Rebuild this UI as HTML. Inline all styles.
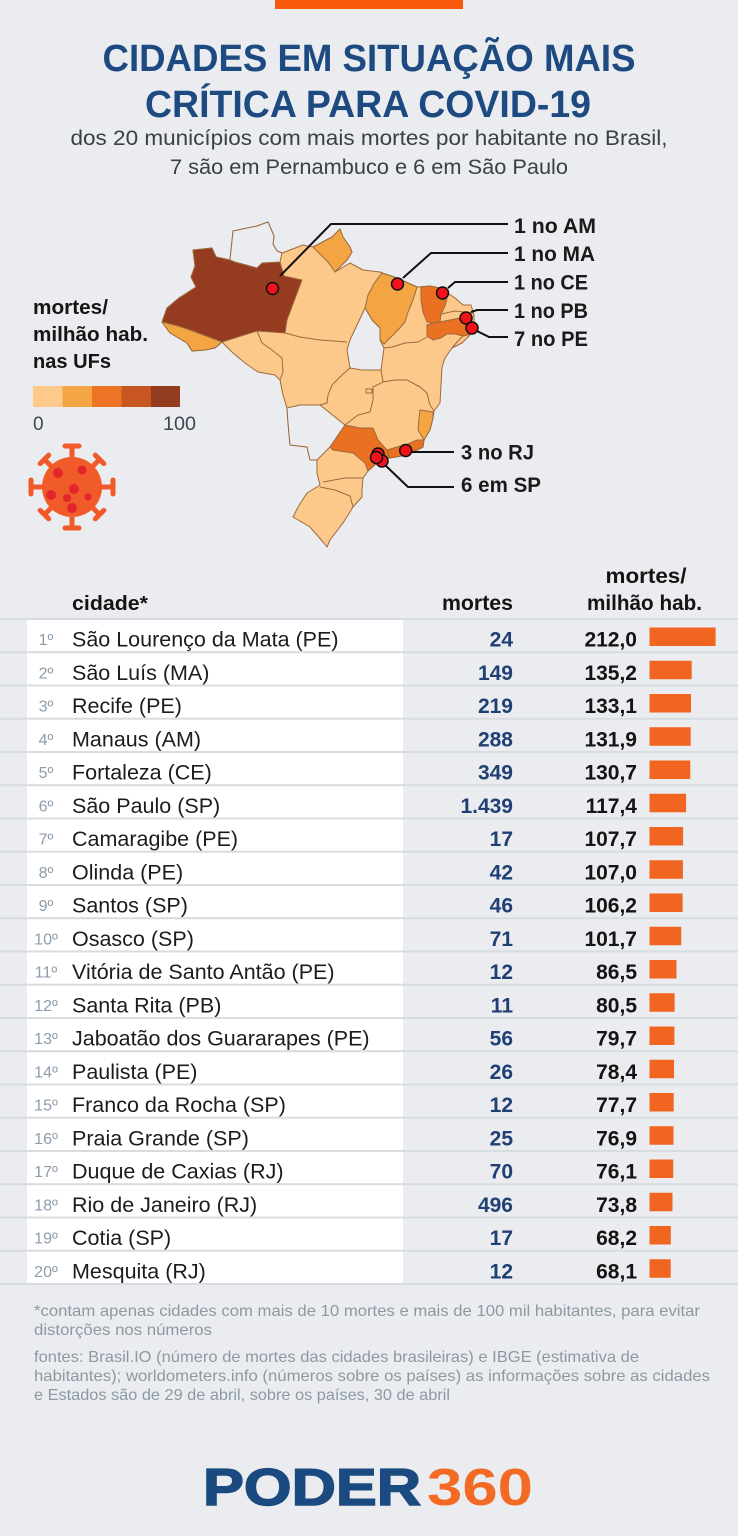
<!DOCTYPE html>
<html><head><meta charset="utf-8">
<style>
html,body{margin:0;padding:0;background:#eaecef;}
svg{display:block;}
text{font-family:"Liberation Sans",Arial,sans-serif;}
.city{font-size:21.5px;fill:#1c1c1c;}
.rank{font-size:16px;fill:#8c9cab;}
.mor{font-size:21px;font-weight:bold;fill:#203f74;}
.rate{font-size:21px;font-weight:bold;fill:#141414;}
.lbl{font-size:21px;font-weight:bold;fill:#1a1a1a;}
.foot{font-size:16px;fill:#8c99a4;}
.st{stroke:#9b6a3d;stroke-width:1;stroke-linejoin:round;}
.bd{fill:none;stroke:#9b6a3d;stroke-width:1;stroke-linejoin:round;}
</style></head>
<body>
<svg width="738" height="1536" viewBox="0 0 738 1536" xmlns="http://www.w3.org/2000/svg">
<rect x="0" y="0" width="738" height="1536" fill="#eaecef"/>
<rect x="275" y="0" width="188" height="9" fill="#fa5a0c"/>

<!-- Title -->
<text x="369" y="71" text-anchor="middle" font-size="38" font-weight="bold" fill="#1d4a80" textLength="533" lengthAdjust="spacingAndGlyphs">CIDADES EM SITUAÇÃO MAIS</text>
<text x="368" y="117" text-anchor="middle" font-size="38" font-weight="bold" fill="#1d4a80" textLength="446" lengthAdjust="spacingAndGlyphs">CRÍTICA PARA COVID-19</text>
<text x="369" y="145" text-anchor="middle" font-size="21" fill="#3b4047" textLength="597" lengthAdjust="spacingAndGlyphs">dos 20 municípios com mais mortes por habitante no Brasil,</text>
<text x="369" y="174" text-anchor="middle" font-size="21" fill="#3b4047" textLength="398" lengthAdjust="spacingAndGlyphs">7 são em Pernambuco e 6 em São Paulo</text>

<!-- Map base -->
<polygon class="st" fill="#fdc98b" stroke-width="1.2" points="193,250 212,248 216,257 230,260 233,231 257,226 268,222 274,236 273,244 277,251 282,253 290,250 303,245 313,247 332,237 340,229 343,237 350,247 352,252 347,260 340,267 335,272 350,263 363,270 380,272 397,278 417,287 430,286 440,288 455,298 463,305 471,305 474,315 474,323 470,335 462,343 452,348 445,358 442,367 441,385 440,403 434,411 433,418 430,430 424,440 423,447 407,455 390,458 382,458 377,463 368,471 363,478 362,490 362,497 353,507 343,523 330,540 327,547 323,542 310,527 293,517 298,507 307,493 320,485 317,473 317,460 310,460 307,447 290,445 288,423 287,408 283,395 280,380 275,375 258,372 245,363 232,352 222,342 215,348 205,350 192,351 187,343 170,333 162,322 167,308 179,298 196,287 191,277 195,266"/>
<!-- AM -->
<polygon class="st" fill="#943b20" points="193,250 212,248 216,257 230,260 235,262 257,268 262,263 280,262 284,276 302,280 287,320 285,333 257,331 222,342 190,330 178,326 162,322 167,308 179,298 196,287 191,277 195,266"/>
<!-- AC -->
<polygon class="st" fill="#f3a443" points="162,322 178,326 190,330 222,342 215,348 205,350 192,351 187,343 170,333"/>
<!-- RR -->
<polygon class="st" fill="#eaecef" points="230,260 233,231 257,226 268,222 274,236 273,244 277,251 282,253 280,262 262,263 257,268 235,262"/>
<!-- AP -->
<polygon class="st" fill="#f3a443" points="313,247 332,237 340,229 343,237 350,247 352,252 347,260 340,267 335,272 328,262 320,254"/>
<!-- MA -->
<polygon class="st" fill="#f3a443" points="382,273 397,278 417,287 413,300 408,312 405,322 398,330 390,338 384,344 380,340 380,328 372,320 365,308 368,295 375,282"/>
<!-- TO -->
<polygon class="st" fill="#eaecef" points="365,308 372,320 380,328 380,340 384,348 381,370 362,370 350,368 347,350 350,340 357,325"/>
<!-- CE -->
<polygon class="st" fill="#eb7122" points="421,287 430,286 440,288 447,298 445,306 441,314 440,322 433,323 427,322 423,312 421,300"/>
<!-- PE -->
<polygon class="st" fill="#eb7122" points="427,325 433,323 440,322 450,320 460,318 466,322 472,328 472,334 463,336 455,334 447,334 441,338 433,340 427,336"/>
<!-- MS -->
<polygon class="st" fill="#eaecef" points="287,408 300,405 320,405 345,425 330,447 317,460 310,460 307,447 290,445 288,423"/>
<!-- SP -->
<polygon class="st" fill="#eb7122" points="345,425 360,428 373,428 378,440 387,450 390,458 382,458 377,463 368,471 365,463 353,453 333,450 330,447"/>
<!-- ES -->
<polygon class="st" fill="#f3a443" points="420,410 433,412 433,418 430,430 424,440 418,430 419,418"/>
<!-- RJ -->
<polygon class="st" fill="#eb7122" points="424,440 423,447 407,455 390,458 387,450 397,447 408,444 417,440"/>
<!-- internal borders -->
<polyline class="bd" points="285,333 300,337 320,340 347,342"/>
<polyline class="bd" points="257,331 262,343 272,350 282,358 283,372 280,380"/>
<polyline class="bd" points="350,368 342,375 332,385 328,395 327,403 320,405"/>
<polyline class="bd" points="381,370 383,382"/>
<polyline class="bd" points="345,425 358,415 370,412 373,400 373,387 383,382"/>
<polyline class="bd" points="383,382 395,380 407,380 420,387 427,393 430,405 434,411"/>
<polyline class="bd" points="384,348 392,347 405,343 418,342 427,337"/>
<polyline class="bd" points="441,314 455,311 473,313"/>
<polyline class="bd" points="463,336 457,342 452,348"/>
<polyline class="bd" points="323,482 345,478 363,478"/>
<polyline class="bd" points="320,487 335,490 350,496 353,507"/>
<rect x="366" y="389" width="6" height="4" fill="none" stroke="#9b6a3d" stroke-width="1"/>

<!-- connectors -->
<g fill="none" stroke="#111" stroke-width="2">
<polyline points="280,276 331,224 508,224"/>
<polyline points="403,278 431,253 508,253"/>
<polyline points="448,288 455,282 508,282"/>
<polyline points="471,312 477,310 508,310"/>
<polyline points="477,331 489,337 508,337"/>
<polyline points="412,452 454,452"/>
<polyline points="385,465 408,487 454,487"/>
</g>
<g fill="#f2111a" stroke="#111" stroke-width="1.5">
<circle cx="272.5" cy="288.5" r="6"/>
<circle cx="397.5" cy="284" r="6"/>
<circle cx="442.5" cy="293" r="6"/>
<circle cx="466" cy="318" r="6"/>
<circle cx="472" cy="328" r="6"/>
<circle cx="405.7" cy="450.5" r="6"/>
<circle cx="378" cy="454" r="6"/>
<circle cx="382" cy="461" r="6"/>
<circle cx="376.5" cy="457.5" r="6"/>
</g>
<text class="lbl" x="514" y="233" textLength="82" lengthAdjust="spacingAndGlyphs">1 no AM</text>
<text class="lbl" x="514" y="261" textLength="81" lengthAdjust="spacingAndGlyphs">1 no MA</text>
<text class="lbl" x="514" y="289.5" textLength="74" lengthAdjust="spacingAndGlyphs">1 no CE</text>
<text class="lbl" x="514" y="318" textLength="74" lengthAdjust="spacingAndGlyphs">1 no PB</text>
<text class="lbl" x="514" y="346" textLength="74" lengthAdjust="spacingAndGlyphs">7 no PE</text>
<text class="lbl" x="461" y="459.5" textLength="73" lengthAdjust="spacingAndGlyphs">3 no RJ</text>
<text class="lbl" x="461" y="492" textLength="80" lengthAdjust="spacingAndGlyphs">6 em SP</text>

<!-- legend -->
<text x="33" y="314" font-size="20" font-weight="bold" fill="#151515" textLength="75" lengthAdjust="spacingAndGlyphs">mortes/</text>
<text x="33" y="341" font-size="20" font-weight="bold" fill="#151515" textLength="115" lengthAdjust="spacingAndGlyphs">milhão hab.</text>
<text x="33" y="368" font-size="20" font-weight="bold" fill="#151515" textLength="78" lengthAdjust="spacingAndGlyphs">nas UFs</text>
<rect x="33" y="386" width="30" height="21" fill="#fec98b"/>
<rect x="62.5" y="386" width="30" height="21" fill="#f4a544"/>
<rect x="92" y="386" width="30" height="21" fill="#ec7424"/>
<rect x="121.5" y="386" width="30" height="21" fill="#c75621"/>
<rect x="151" y="386" width="29" height="21" fill="#943c1f"/>
<text x="33" y="430" font-size="19" fill="#3a4650">0</text>
<text x="196" y="430" font-size="19" fill="#3a4650" text-anchor="end" textLength="33" lengthAdjust="spacingAndGlyphs">100</text>

<!-- virus -->
<g stroke="#f15a29" stroke-width="5" stroke-linecap="round">
<g transform="rotate(0 72 487)"><line x1="72" y1="459" x2="72" y2="447"/><line x1="65" y1="446" x2="79" y2="446"/></g>
<g transform="rotate(45 72 487)"><line x1="72" y1="459" x2="72" y2="449"/><line x1="66" y1="448" x2="78" y2="448"/></g>
<g transform="rotate(90 72 487)"><line x1="72" y1="459" x2="72" y2="447"/><line x1="65" y1="446" x2="79" y2="446"/></g>
<g transform="rotate(135 72 487)"><line x1="72" y1="459" x2="72" y2="449"/><line x1="66" y1="448" x2="78" y2="448"/></g>
<g transform="rotate(180 72 487)"><line x1="72" y1="459" x2="72" y2="447"/><line x1="65" y1="446" x2="79" y2="446"/></g>
<g transform="rotate(225 72 487)"><line x1="72" y1="459" x2="72" y2="449"/><line x1="66" y1="448" x2="78" y2="448"/></g>
<g transform="rotate(270 72 487)"><line x1="72" y1="459" x2="72" y2="447"/><line x1="65" y1="446" x2="79" y2="446"/></g>
<g transform="rotate(315 72 487)"><line x1="72" y1="459" x2="72" y2="449"/><line x1="66" y1="448" x2="78" y2="448"/></g>
</g>
<circle cx="72" cy="487" r="30" fill="#f15a29"/>
<g fill="#e3262b">
<circle cx="58" cy="473" r="5"/><circle cx="82" cy="470" r="4.5"/><circle cx="74" cy="489" r="5"/>
<circle cx="51" cy="495" r="5"/><circle cx="67" cy="498" r="4"/><circle cx="88" cy="497" r="3.5"/><circle cx="72" cy="508" r="5"/>
</g>

<!-- table header -->
<text x="72" y="610" font-size="20" font-weight="bold" fill="#141414" textLength="76" lengthAdjust="spacingAndGlyphs">cidade*</text>
<text x="513" y="610" font-size="21" font-weight="bold" fill="#141414" text-anchor="end" textLength="71" lengthAdjust="spacingAndGlyphs">mortes</text>
<text x="646" y="583" font-size="21" font-weight="bold" fill="#141414" text-anchor="middle" textLength="81" lengthAdjust="spacingAndGlyphs">mortes/</text>
<text x="644.5" y="610" font-size="21" font-weight="bold" fill="#141414" text-anchor="middle" textLength="115" lengthAdjust="spacingAndGlyphs">milhão hab.</text>

<!-- table rows -->
<g transform="translate(0,619)"><rect x="0" y="-1" width="738" height="2" fill="#d7dce1"/><rect x="27" y="1" width="376" height="31.25" fill="#fff"/><text class="rank" x="46" y="26" text-anchor="middle">1º</text><text class="city" x="72" y="27.5">São Lourenço da Mata (PE)</text><text class="mor" x="513" y="27.5" text-anchor="end">24</text><text class="rate" x="637" y="27.5" text-anchor="end">212,0</text><rect x="649.5" y="8.5" width="66.1" height="18.5" fill="#f0651f"/></g>
<g transform="translate(0,652.25)"><rect x="0" y="-1" width="738" height="2" fill="#d7dce1"/><rect x="27" y="1" width="376" height="31.25" fill="#fff"/><text class="rank" x="46" y="26" text-anchor="middle">2º</text><text class="city" x="72" y="27.5">São Luís (MA)</text><text class="mor" x="513" y="27.5" text-anchor="end">149</text><text class="rate" x="637" y="27.5" text-anchor="end">135,2</text><rect x="649.5" y="8.5" width="42.2" height="18.5" fill="#f0651f"/></g>
<g transform="translate(0,685.5)"><rect x="0" y="-1" width="738" height="2" fill="#d7dce1"/><rect x="27" y="1" width="376" height="31.25" fill="#fff"/><text class="rank" x="46" y="26" text-anchor="middle">3º</text><text class="city" x="72" y="27.5">Recife (PE)</text><text class="mor" x="513" y="27.5" text-anchor="end">219</text><text class="rate" x="637" y="27.5" text-anchor="end">133,1</text><rect x="649.5" y="8.5" width="41.5" height="18.5" fill="#f0651f"/></g>
<g transform="translate(0,718.75)"><rect x="0" y="-1" width="738" height="2" fill="#d7dce1"/><rect x="27" y="1" width="376" height="31.25" fill="#fff"/><text class="rank" x="46" y="26" text-anchor="middle">4º</text><text class="city" x="72" y="27.5">Manaus (AM)</text><text class="mor" x="513" y="27.5" text-anchor="end">288</text><text class="rate" x="637" y="27.5" text-anchor="end">131,9</text><rect x="649.5" y="8.5" width="41.2" height="18.5" fill="#f0651f"/></g>
<g transform="translate(0,752)"><rect x="0" y="-1" width="738" height="2" fill="#d7dce1"/><rect x="27" y="1" width="376" height="31.25" fill="#fff"/><text class="rank" x="46" y="26" text-anchor="middle">5º</text><text class="city" x="72" y="27.5">Fortaleza (CE)</text><text class="mor" x="513" y="27.5" text-anchor="end">349</text><text class="rate" x="637" y="27.5" text-anchor="end">130,7</text><rect x="649.5" y="8.5" width="40.8" height="18.5" fill="#f0651f"/></g>
<g transform="translate(0,785.25)"><rect x="0" y="-1" width="738" height="2" fill="#d7dce1"/><rect x="27" y="1" width="376" height="31.25" fill="#fff"/><text class="rank" x="46" y="26" text-anchor="middle">6º</text><text class="city" x="72" y="27.5">São Paulo (SP)</text><text class="mor" x="513" y="27.5" text-anchor="end">1.439</text><text class="rate" x="637" y="27.5" text-anchor="end">117,4</text><rect x="649.5" y="8.5" width="36.6" height="18.5" fill="#f0651f"/></g>
<g transform="translate(0,818.5)"><rect x="0" y="-1" width="738" height="2" fill="#d7dce1"/><rect x="27" y="1" width="376" height="31.25" fill="#fff"/><text class="rank" x="46" y="26" text-anchor="middle">7º</text><text class="city" x="72" y="27.5">Camaragibe (PE)</text><text class="mor" x="513" y="27.5" text-anchor="end">17</text><text class="rate" x="637" y="27.5" text-anchor="end">107,7</text><rect x="649.5" y="8.5" width="33.6" height="18.5" fill="#f0651f"/></g>
<g transform="translate(0,851.75)"><rect x="0" y="-1" width="738" height="2" fill="#d7dce1"/><rect x="27" y="1" width="376" height="31.25" fill="#fff"/><text class="rank" x="46" y="26" text-anchor="middle">8º</text><text class="city" x="72" y="27.5">Olinda (PE)</text><text class="mor" x="513" y="27.5" text-anchor="end">42</text><text class="rate" x="637" y="27.5" text-anchor="end">107,0</text><rect x="649.5" y="8.5" width="33.4" height="18.5" fill="#f0651f"/></g>
<g transform="translate(0,885)"><rect x="0" y="-1" width="738" height="2" fill="#d7dce1"/><rect x="27" y="1" width="376" height="31.25" fill="#fff"/><text class="rank" x="46" y="26" text-anchor="middle">9º</text><text class="city" x="72" y="27.5">Santos (SP)</text><text class="mor" x="513" y="27.5" text-anchor="end">46</text><text class="rate" x="637" y="27.5" text-anchor="end">106,2</text><rect x="649.5" y="8.5" width="33.1" height="18.5" fill="#f0651f"/></g>
<g transform="translate(0,918.25)"><rect x="0" y="-1" width="738" height="2" fill="#d7dce1"/><rect x="27" y="1" width="376" height="31.25" fill="#fff"/><text class="rank" x="46" y="26" text-anchor="middle">10º</text><text class="city" x="72" y="27.5">Osasco (SP)</text><text class="mor" x="513" y="27.5" text-anchor="end">71</text><text class="rate" x="637" y="27.5" text-anchor="end">101,7</text><rect x="649.5" y="8.5" width="31.7" height="18.5" fill="#f0651f"/></g>
<g transform="translate(0,951.5)"><rect x="0" y="-1" width="738" height="2" fill="#d7dce1"/><rect x="27" y="1" width="376" height="31.25" fill="#fff"/><text class="rank" x="46" y="26" text-anchor="middle">11º</text><text class="city" x="72" y="27.5">Vitória de Santo Antão (PE)</text><text class="mor" x="513" y="27.5" text-anchor="end">12</text><text class="rate" x="637" y="27.5" text-anchor="end">86,5</text><rect x="649.5" y="8.5" width="27.0" height="18.5" fill="#f0651f"/></g>
<g transform="translate(0,984.75)"><rect x="0" y="-1" width="738" height="2" fill="#d7dce1"/><rect x="27" y="1" width="376" height="31.25" fill="#fff"/><text class="rank" x="46" y="26" text-anchor="middle">12º</text><text class="city" x="72" y="27.5">Santa Rita (PB)</text><text class="mor" x="513" y="27.5" text-anchor="end">11</text><text class="rate" x="637" y="27.5" text-anchor="end">80,5</text><rect x="649.5" y="8.5" width="25.1" height="18.5" fill="#f0651f"/></g>
<g transform="translate(0,1018)"><rect x="0" y="-1" width="738" height="2" fill="#d7dce1"/><rect x="27" y="1" width="376" height="31.25" fill="#fff"/><text class="rank" x="46" y="26" text-anchor="middle">13º</text><text class="city" x="72" y="27.5">Jaboatão dos Guararapes (PE)</text><text class="mor" x="513" y="27.5" text-anchor="end">56</text><text class="rate" x="637" y="27.5" text-anchor="end">79,7</text><rect x="649.5" y="8.5" width="24.9" height="18.5" fill="#f0651f"/></g>
<g transform="translate(0,1051.25)"><rect x="0" y="-1" width="738" height="2" fill="#d7dce1"/><rect x="27" y="1" width="376" height="31.25" fill="#fff"/><text class="rank" x="46" y="26" text-anchor="middle">14º</text><text class="city" x="72" y="27.5">Paulista (PE)</text><text class="mor" x="513" y="27.5" text-anchor="end">26</text><text class="rate" x="637" y="27.5" text-anchor="end">78,4</text><rect x="649.5" y="8.5" width="24.5" height="18.5" fill="#f0651f"/></g>
<g transform="translate(0,1084.5)"><rect x="0" y="-1" width="738" height="2" fill="#d7dce1"/><rect x="27" y="1" width="376" height="31.25" fill="#fff"/><text class="rank" x="46" y="26" text-anchor="middle">15º</text><text class="city" x="72" y="27.5">Franco da Rocha (SP)</text><text class="mor" x="513" y="27.5" text-anchor="end">12</text><text class="rate" x="637" y="27.5" text-anchor="end">77,7</text><rect x="649.5" y="8.5" width="24.2" height="18.5" fill="#f0651f"/></g>
<g transform="translate(0,1117.75)"><rect x="0" y="-1" width="738" height="2" fill="#d7dce1"/><rect x="27" y="1" width="376" height="31.25" fill="#fff"/><text class="rank" x="46" y="26" text-anchor="middle">16º</text><text class="city" x="72" y="27.5">Praia Grande (SP)</text><text class="mor" x="513" y="27.5" text-anchor="end">25</text><text class="rate" x="637" y="27.5" text-anchor="end">76,9</text><rect x="649.5" y="8.5" width="24.0" height="18.5" fill="#f0651f"/></g>
<g transform="translate(0,1151)"><rect x="0" y="-1" width="738" height="2" fill="#d7dce1"/><rect x="27" y="1" width="376" height="31.25" fill="#fff"/><text class="rank" x="46" y="26" text-anchor="middle">17º</text><text class="city" x="72" y="27.5">Duque de Caxias (RJ)</text><text class="mor" x="513" y="27.5" text-anchor="end">70</text><text class="rate" x="637" y="27.5" text-anchor="end">76,1</text><rect x="649.5" y="8.5" width="23.7" height="18.5" fill="#f0651f"/></g>
<g transform="translate(0,1184.25)"><rect x="0" y="-1" width="738" height="2" fill="#d7dce1"/><rect x="27" y="1" width="376" height="31.25" fill="#fff"/><text class="rank" x="46" y="26" text-anchor="middle">18º</text><text class="city" x="72" y="27.5">Rio de Janeiro (RJ)</text><text class="mor" x="513" y="27.5" text-anchor="end">496</text><text class="rate" x="637" y="27.5" text-anchor="end">73,8</text><rect x="649.5" y="8.5" width="23.0" height="18.5" fill="#f0651f"/></g>
<g transform="translate(0,1217.5)"><rect x="0" y="-1" width="738" height="2" fill="#d7dce1"/><rect x="27" y="1" width="376" height="31.25" fill="#fff"/><text class="rank" x="46" y="26" text-anchor="middle">19º</text><text class="city" x="72" y="27.5">Cotia (SP)</text><text class="mor" x="513" y="27.5" text-anchor="end">17</text><text class="rate" x="637" y="27.5" text-anchor="end">68,2</text><rect x="649.5" y="8.5" width="21.3" height="18.5" fill="#f0651f"/></g>
<g transform="translate(0,1250.75)"><rect x="0" y="-1" width="738" height="2" fill="#d7dce1"/><rect x="27" y="1" width="376" height="31.25" fill="#fff"/><text class="rank" x="46" y="26" text-anchor="middle">20º</text><text class="city" x="72" y="27.5">Mesquita (RJ)</text><text class="mor" x="513" y="27.5" text-anchor="end">12</text><text class="rate" x="637" y="27.5" text-anchor="end">68,1</text><rect x="649.5" y="8.5" width="21.2" height="18.5" fill="#f0651f"/></g>
<rect x="0" y="1283" width="738" height="2" fill="#d7dce1"/>

<!-- footnotes -->
<text class="foot" x="34" y="1316" textLength="666" lengthAdjust="spacingAndGlyphs">*contam apenas cidades com mais de 10 mortes e mais de 100 mil habitantes, para evitar</text>
<text class="foot" x="34" y="1335" textLength="178" lengthAdjust="spacingAndGlyphs">distorções nos números</text>
<text class="foot" x="34" y="1362" textLength="605" lengthAdjust="spacingAndGlyphs">fontes: Brasil.IO (número de mortes das cidades brasileiras) e IBGE (estimativa de</text>
<text class="foot" x="34" y="1381" textLength="676" lengthAdjust="spacingAndGlyphs">habitantes); worldometers.info (números sobre os países) as informações sobre as cidades</text>
<text class="foot" x="34" y="1400" textLength="416" lengthAdjust="spacingAndGlyphs">e Estados são de 29 de abril, sobre os países, 30 de abril</text>

<!-- logo -->
<text x="203" y="1505" font-size="52" font-weight="bold" fill="#1a4a7f" stroke="#1a4a7f" stroke-width="1.5" textLength="218" lengthAdjust="spacingAndGlyphs">PODER</text>
<text x="427" y="1505" font-size="52" font-weight="bold" fill="#f26a24" textLength="106" lengthAdjust="spacingAndGlyphs">360</text>
</svg>
</body></html>
